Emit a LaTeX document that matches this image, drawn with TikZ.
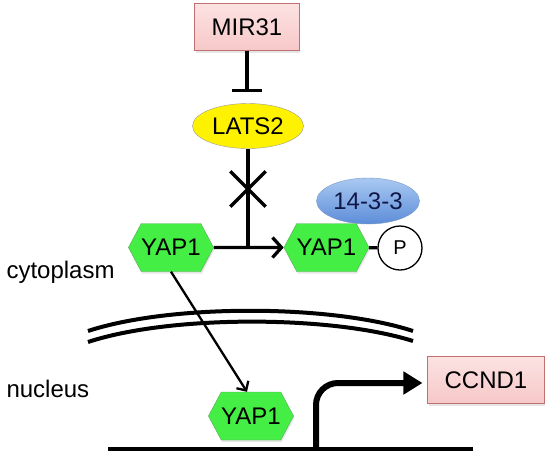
\documentclass[tikz,border=0pt]{standalone}
\usepackage{fontspec}
\setmainfont{Liberation Sans}
\usetikzlibrary{positioning,shapes.geometric,shapes.symbols,shapes.misc,arrows.meta,shadows}
\definecolor{genefill}{HTML}{F7C8C8}
\definecolor{genetop}{HTML}{FCE2E2}
\definecolor{genedraw}{HTML}{C07070}
\definecolor{yapfill}{HTML}{44EE44}
\definecolor{yapdraw}{HTML}{5FA85F}
\definecolor{latsdraw}{HTML}{9A9A9A}
\definecolor{adtop}{HTML}{A9C9F2}
\definecolor{adbot}{HTML}{5D8DD8}
\definecolor{addraw}{HTML}{7B9BC6}
\definecolor{adtext}{HTML}{101848}
\begin{document}
\begin{tikzpicture}[x=1pt, y=-1pt, font=\fontsize{24}{28}\selectfont,
    gene/.style={draw=genedraw, rectangle, top color=genetop, bottom color=genefill, inner xsep=17pt, minimum height=47pt, drop shadow={opacity=0.2, shadow xshift=1pt, shadow yshift=-2pt}},
    yap/.style={signal, signal to=east and west, signal pointer angle=124, draw=yapdraw, fill=yapfill, minimum width=78pt, minimum height=48pt, inner sep=0pt, drop shadow={opacity=0.2, shadow xshift=1pt, shadow yshift=-2pt}},
    line/.style={line width=3.3pt}]
    \useasboundingbox (0,0) rectangle (550,459);

    \node[gene] (mir) at (247,27) {MIR31};
    \node[ellipse, draw=latsdraw, fill=yellow, minimum width=111pt, minimum height=45pt, inner sep=0pt] (lats) at (248,126) {LATS2};
    \node[cross out, draw, line width=3.3pt, minimum size=32pt, inner sep=0pt] (cut) at (248,189) {};
    \node[ellipse, draw=addraw, top color=adtop, bottom color=adbot, text=adtext, minimum width=103pt, minimum height=46pt, inner sep=0pt] (adapt) at (368,201) {14-3-3};
    \node[yap] (yap1) at (171,247.5) {YAP1};
    \node[yap] (yap2) at (326.5,247.5) {YAP1};
    \node[circle, draw, line width=1.3pt, fill=white, minimum size=44pt, inner sep=0pt, font=\fontsize{20}{22}\selectfont] (phos) at (400,248) {P};
    \node[anchor=base west] (cyto) at (3,278) {cytoplasm};
    \node[anchor=base west] (nuc) at (3,397) {nucleus};
    \node[yap] (yap3) at (251,416) {YAP1};
    \node[gene] (ccnd) at (486,380) {CCND1};
    \coordinate (dnaL) at (108,449);
    \coordinate (dnaR) at (473,449);
    \coordinate (tss) at (316,449);

    \draw[line, -{Bar[width=30pt]}, shorten >=11pt] (mir) -- (mir |- lats.north);
    \draw[line] (lats) -- (lats |- yap1.east);
    \draw[line, -{Straight Barb[length=9pt,width=20pt]}] (yap1) -- (yap2);
    \draw[line] (yap2) -- (phos);
    \draw[line width=2.3pt, -{Straight Barb[length=7pt,width=14pt]}] (yap1.south) -- ([xshift=-4pt]yap3.north);

    \draw[line width=4pt] (88,331) .. controls (170,304) and (330,304) .. (413,331);
    \draw[line width=4pt] (88,342) .. controls (170,315) and (330,315) .. (413,341);

    \draw[line width=4pt] (dnaL) -- (dnaR);
    \draw[line width=6pt, rounded corners=22pt, -{Triangle[length=19pt,width=22pt]}, shorten >=5pt] (tss) -- (tss |- 0,383) -- ([yshift=-3pt]ccnd.west);
\end{tikzpicture}
\end{document}
